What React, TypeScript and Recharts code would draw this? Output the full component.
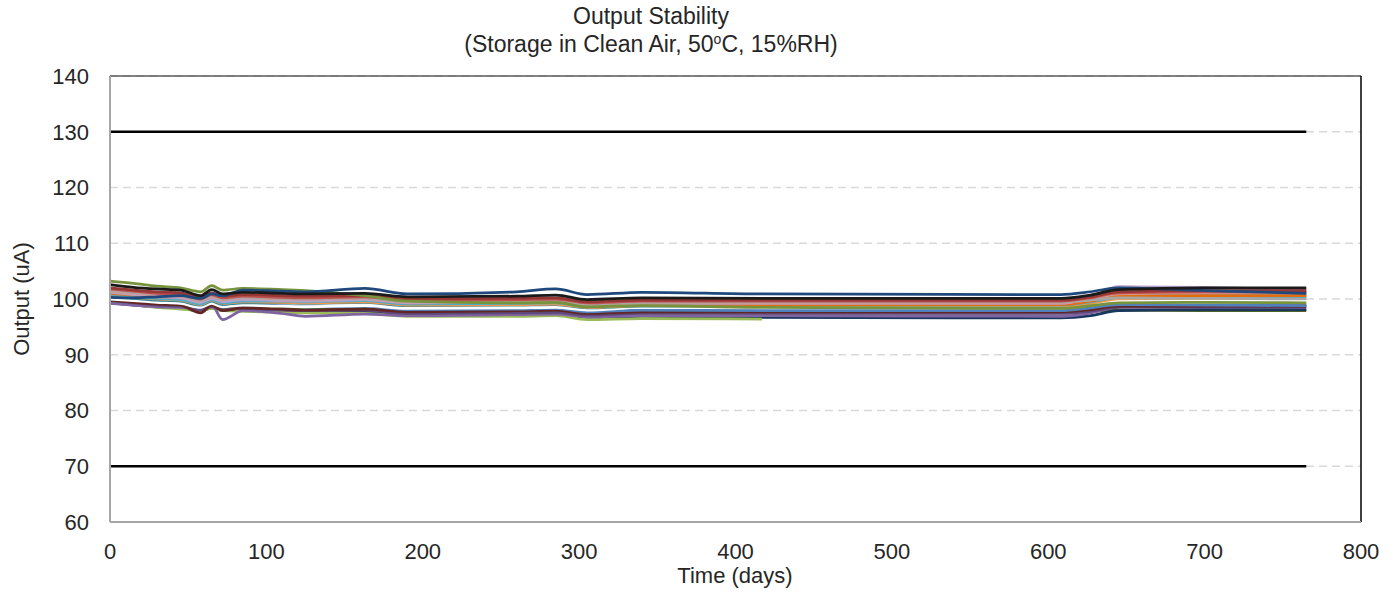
import React from 'react';
import { LineChart, Line, XAxis, YAxis, CartesianGrid, ReferenceLine } from 'recharts';

const days = [0, 15, 30, 45, 58, 65, 72, 85, 110, 125, 163, 190, 260, 285, 305, 340, 417, 608, 627, 645, 700, 765];
const xTicks = [0, 100, 200, 300, 400, 500, 600, 700, 800];
const yTicks = [60, 70, 80, 90, 100, 110, 120, 130, 140];
const upperLimit = 130;
const lowerLimit = 70;

const green1 = [103.2, 102.8, 102.3, 102.0, 101.3, 102.4, 101.6, 101.9, 101.7, 101.5, 100.6, 99.6, 99.3, 99.4, 98.6, 98.8, 98.5, 98.3, 98.8, 99.3, 99.4, 99.3];
const black = [102.6, 102.1, 101.8, 101.6, 100.6, 101.7, 100.9, 101.2, 101.0, 100.9, 101.0, 100.4, 100.5, 100.7, 99.9, 100.2, 100.1, 100.1, 100.7, 101.7, 102.0, 102.0];
const navy1 = [100.3, 100.2, 100.4, 100.6, 100.1, 100.9, 100.6, 101.6, 101.4, 101.3, 101.9, 100.9, 101.3, 101.8, 100.8, 101.2, 100.9, 100.8, 101.3, 102.0, 101.5, 101.0];
const darkred1 = [102.0, 101.6, 101.3, 101.1, 100.3, 101.1, 100.5, 100.8, 100.6, 100.5, 100.6, 100.0, 100.1, 100.2, 99.5, 99.8, 99.8, 99.8, 100.4, 101.3, 101.5, 101.5];
const red = [101.8, 101.4, 101.0, 100.8, 100.0, 100.8, 100.2, 100.5, 100.3, 100.2, 100.4, 99.8, 99.9, 100.0, 99.3, 99.6, 99.6, 99.6, 100.2, 101.1, 101.3, 101.3];
const gray = [101.6, 101.2, 100.9, 100.6, 99.8, 100.6, 100.0, 100.3, 100.1, 100.0, 100.2, 99.6, 99.7, 99.8, 99.1, 99.4, 99.5, 99.5, 99.8, 100.2, 100.1, 100.0];
const rose = [101.4, 101.0, 100.7, 100.5, 99.7, 100.4, 99.9, 100.2, 100.0, 99.9, 100.1, 99.5, 99.6, 99.7, 99.0, 99.3, 99.4, 99.4, 99.9, 100.9, 101.1, 101.1];
const lightpurple = [101.2, 100.8, 100.4, 100.2, 99.4, 100.1, 99.5, 99.9, 99.7, 99.6, 99.9, 99.3, 99.4, 99.5, 98.9, 99.2, 99.2, 99.2, 100.3, 102.2, 102.1, 101.7];
const orange1 = [101.0, 100.7, 100.4, 100.2, 99.5, 100.3, 99.7, 100.0, 99.9, 99.8, 100.0, 99.3, 99.4, 99.5, 98.8, 99.1, 99.0, 99.0, 99.6, 100.5, 100.6, 100.6];
const aqua = [100.8, 100.4, 100.1, 99.9, 99.1, 99.9, 99.3, 99.6, 99.6, 99.5, 99.7, 99.1, 99.2, 99.3, 98.6, 98.9, 98.9, 98.9, 99.5, 100.3, 100.4, 100.4];
const orange2 = [100.6, 100.3, 100.0, 99.8, 99.0, 99.8, 99.2, 99.5, 99.4, 99.3, 99.5, 98.9, 99.0, 99.1, 98.5, 98.8, 98.7, 98.6, 99.2, 100.0, 100.1, 100.1];
const teal = [100.4, 100.1, 99.8, 99.6, 98.9, 99.6, 99.0, 99.3, 99.3, 99.2, 99.4, 98.8, 98.9, 99.0, 98.4, 98.7, 98.7, 98.7, 99.3, 100.6, 100.8, 100.8];
const blue = [100.2, 99.8, 99.5, 99.3, 98.6, 99.3, 98.7, 99.0, 98.8, 98.6, 98.7, 98.1, 98.2, 98.3, 97.7, 98.0, 97.9, 97.9, 98.4, 99.0, 98.9, 98.8];
const white = [100.0, 99.7, 99.4, 99.2, 98.5, 99.2, 98.6, 98.9, 98.7, 98.6, 98.8, 98.3, 98.4, 98.5, 98.0, 98.5, 98.5, 98.5, 98.9, 99.6, 99.6, 99.5];
const olive = [99.9, 99.5, 99.2, 99.0, 98.2, 98.9, 98.3, 98.6, 98.4, 98.2, 98.3, 97.7, 97.8, 97.9, 97.3, 97.6, 97.5, 97.5, 97.8, 98.0, 97.9, 97.9];
const darkred2 = [99.8, 99.4, 99.1, 98.9, 97.5, 98.9, 97.9, 98.4, 98.2, 98.0, 98.2, 97.7, 97.9, 98.0, 97.4, 97.7, 97.7, 97.7, 98.1, 98.7, 98.7, 98.7];
const darkpurple = [99.7, 99.3, 98.9, 98.7, 98.0, 98.6, 98.1, 98.3, 98.0, 97.9, 98.0, 97.4, 97.5, 97.6, 97.1, 97.4, 97.4, 97.4, 97.8, 98.5, 98.5, 98.5];
const green2 = [99.4, 99.0, 98.5, 98.2, 97.9, 98.3, 97.9, 97.8, 97.6, 97.5, 97.4, 96.9, 96.9, 97.0, 96.3, 96.5, 96.4, null, null, null, null, null];
const navy2 = [99.3, 98.9, 98.6, 98.4, 97.8, 98.4, 97.9, 98.1, 97.8, 97.6, 97.7, 97.1, 97.2, 97.3, 96.7, 96.9, 96.7, 96.6, 97.0, 97.9, 98.1, 98.1];
const purple = [99.2, 98.9, 98.6, 98.5, 98.3, 98.9, 96.3, 97.9, 97.4, 96.9, 97.3, 97.0, 97.2, 97.3, 96.8, 97.0, 97.0, 96.9, 97.5, 98.6, 98.9, 99.0];

const seriesList = [
  { key: 'olive', color: '#4F6228', values: olive },
  { key: 'navy2', color: '#17375E', values: navy2 },
  { key: 'green2', color: '#9BBB59', values: green2 },
  { key: 'purple', color: '#8064A2', values: purple },
  { key: 'darkpurple', color: '#5F497A', values: darkpurple },
  { key: 'darkred2', color: '#632523', values: darkred2 },
  { key: 'blue', color: '#4F81BD', values: blue },
  { key: 'white', color: '#FFFFFF', values: white },
  { key: 'teal', color: '#31859C', values: teal },
  { key: 'orange2', color: '#F79646', values: orange2 },
  { key: 'aqua', color: '#4BACC6', values: aqua },
  { key: 'orange1', color: '#E46C0A', values: orange1 },
  { key: 'lightpurple', color: '#B3A2C7', values: lightpurple },
  { key: 'rose', color: '#D99694', values: rose },
  { key: 'gray', color: '#A6A6A6', values: gray },
  { key: 'red', color: '#C0504D', values: red },
  { key: 'darkred1', color: '#953735', values: darkred1 },
  { key: 'green1', color: '#77933C', values: green1 },
  { key: 'navy1', color: '#1F497D', values: navy1 },
  { key: 'black', color: '#1A1A1A', values: black },
];

const data = days.map((d, i) => {
  const row: Record<string, number | null> = { day: d, upper: upperLimit, lower: lowerLimit };
  seriesList.forEach((s) => {
    row[s.key] = s.values[i];
  });
  return row;
});

const FONT = '"Liberation Sans", Arial, sans-serif';

export default function App() {
  return (
    <div style={{ position: 'absolute', left: 0, top: 0, width: 1399, height: 614, background: '#fff' }}>
      <LineChart width={1399} height={614} data={data} margin={{ top: 76, right: 38, left: 0, bottom: 0 }}>
        <CartesianGrid vertical={false} stroke="#D9D9D9" strokeDasharray="8 5" strokeWidth={1.5} />
        <XAxis
          dataKey="day"
          type="number"
          domain={[0, 800]}
          ticks={xTicks}
          height={92}
          tickLine={false}
          tickSize={0}
          tickMargin={21}
          axisLine={{ stroke: '#A6A6A6', strokeWidth: 2 }}
          tick={{ fill: '#262626', fontSize: 22, fontFamily: FONT }}
          allowDataOverflow
        />
        <YAxis
          type="number"
          domain={[60, 140]}
          ticks={yTicks}
          width={110}
          tickLine={false}
          tickSize={0}
          tickMargin={21}
          axisLine={{ stroke: '#A6A6A6', strokeWidth: 2 }}
          tick={{ fill: '#262626', fontSize: 22, fontFamily: FONT }}
        />
        <ReferenceLine y={140} stroke="#595959" strokeWidth={1.5} />
        <ReferenceLine x={800} stroke="#000000" strokeWidth={1.5} />
        <Line dataKey="upper" stroke="#000000" strokeWidth={2.5} dot={false} isAnimationActive={false} type="linear" />
        <Line dataKey="lower" stroke="#000000" strokeWidth={2.5} dot={false} isAnimationActive={false} type="linear" />
        {seriesList.map((s) => (
          <Line
            key={s.key}
            dataKey={s.key}
            stroke={s.color}
            strokeWidth={2.75}
            dot={false}
            type="monotone"
            isAnimationActive={false}
          />
        ))}
      </LineChart>
      <svg width={1399} height={614} style={{ position: 'absolute', left: 0, top: 0, pointerEvents: 'none' }}>
        <text x={651} y={24} textAnchor="middle" fontSize={23} fontFamily={FONT} fill="#262626">
          Output Stability
        </text>
        <text x={651} y={52} textAnchor="middle" fontSize={23} fontFamily={FONT} fill="#262626">
          (Storage in Clean Air, 50
          <tspan fontSize={14} dy={-8}>o</tspan>
          <tspan dy={8}>C, 15%RH)</tspan>
        </text>
        <text x={735} y={583} textAnchor="middle" fontSize={22} fontFamily={FONT} fill="#262626">
          Time (days)
        </text>
        <text
          x={0}
          y={0}
          transform="translate(29,299) rotate(-90)"
          textAnchor="middle"
          fontSize={22}
          fontFamily={FONT}
          fill="#262626"
        >
          Output (uA)
        </text>
      </svg>
    </div>
  );
}
